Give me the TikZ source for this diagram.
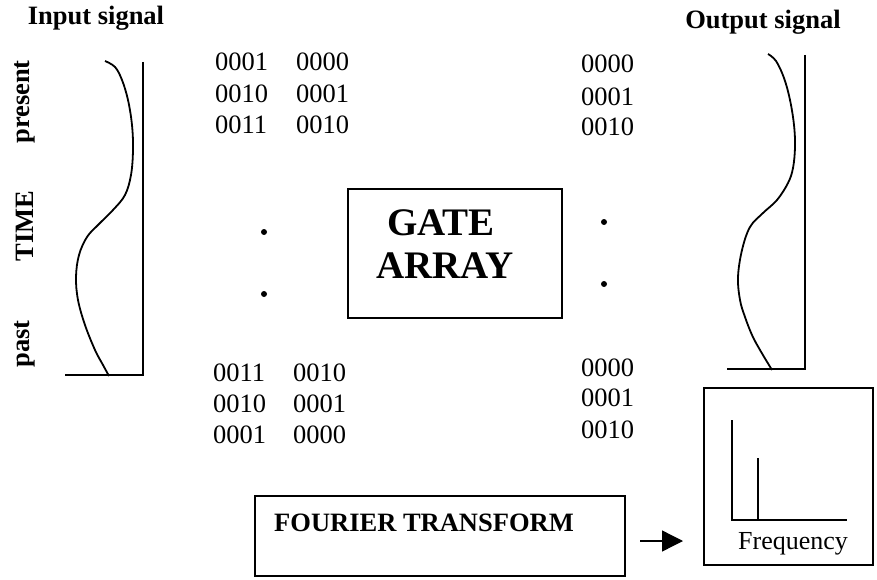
\documentclass[tikz,border=0pt]{standalone}
\usepackage{fontspec}
\setmainfont{Liberation Serif}
\usetikzlibrary{arrows.meta}
\begin{document}
\begin{tikzpicture}[x=1pt,y=-1pt,
  lbl/.style={font=\fontsize{26.5}{28}\selectfont\bfseries, inner sep=0pt},
  num/.style={font=\fontsize{26.5}{28}\selectfont, inner sep=0pt, anchor=west},
  axis/.style={line width=1.4pt},
  sig/.style={line width=1.8pt, line join=round},
  boxst/.style={draw, line width=1.5pt, inner sep=0pt},
  dotst/.style={circle, fill, inner sep=0pt, minimum size=6pt}]
\useasboundingbox (0,0) rectangle (877,580);
% titles
\node[lbl] (intitle) at (96,18) {Input signal};
\node[lbl] (outtitle) at (763,22) {Output signal};
\node[lbl, rotate=90] (present) at (25,102) {present};
\node[lbl, rotate=90] (time) at (25,226) {TIME};
\node[lbl, rotate=90] (past) at (25,344) {past};
% input axes
\coordinate (ia1) at (143,62);
\coordinate (ia2) at (143,375);
\coordinate (ia3) at (65,375);
\draw[axis] (ia1) -- (ia2) -- (ia3);
\draw[sig] plot[smooth, tension=0.6] coordinates {(105,61) (115,67) (122,80) (128,100) (132,125) (133,150) (131,175) (125,195) (113,210) (98,225) (87,237) (79,255) (76,277) (78,300) (85,325) (95,350) (103,365) (109,376)};
% output axes
\coordinate (oa1) at (805,55);
\coordinate (oa2) at (805,369);
\coordinate (oa3) at (727,369);
\draw[axis] (oa1) -- (oa2) -- (oa3);
\draw[sig] plot[smooth, tension=0.6] coordinates {(768,54) (776,61) (784,78) (790,100) (794,125) (795,147) (793,168) (788,183) (777,200) (763,213) (750,227) (742,250) (738,277) (740,300) (745,317) (752,335) (760,350) (772,370)};
% numbers left top
\node[num] (a1) at (215,62) {0001};
\node[num] (a2) at (215,94) {0010};
\node[num] (a3) at (215,125) {0011};
\node[num] (b1) at (296,62) {0000};
\node[num] (b2) at (296,94) {0001};
\node[num] (b3) at (296,125) {0010};
% numbers left bottom
\node[num] (c1) at (213,373) {0011};
\node[num] (c2) at (213,404) {0010};
\node[num] (c3) at (213,435) {0001};
\node[num] (d1) at (293,373) {0010};
\node[num] (d2) at (293,404) {0001};
\node[num] (d3) at (293,435) {0000};
% numbers right
\node[num] (e1) at (581,64) {0000};
\node[num] (e2) at (581,97) {0001};
\node[num] (e3) at (581,127) {0010};
\node[num] (f1) at (581,368) {0000};
\node[num] (f2) at (581,398) {0001};
\node[num] (f3) at (581,430) {0010};
% dots
\node[dotst] (dl1) at (264,232) {};
\node[dotst] (dl2) at (264,294) {};
\node[dotst] (dr1) at (604,222) {};
\node[dotst] (dr2) at (604,284) {};
% gate array
\node[boxst, minimum width=214pt, minimum height=129pt] (gate) at (455,253.5) {};
\node[font=\fontsize{39}{44}\selectfont\bfseries, inner sep=0pt] (gatetxt1) at (441,223) {GATE};
\node[font=\fontsize{39}{44}\selectfont\bfseries, inner sep=0pt] (gatetxt2) at (445,266) {ARRAY};
% fourier
\node[boxst, minimum width=370pt, minimum height=80pt] (fourier) at (440,536) {};
\node[font=\fontsize{26.5}{28}\selectfont\bfseries, inner sep=0pt] (ft) at (424,523) {FOURIER TRANSFORM};
% arrow
\coordinate (ar1) at (640,541);
\coordinate (ar2) at (683,541);
\draw[line width=1.3pt, -{Triangle[length=21pt,width=21pt]}] (ar1) -- (ar2);
% frequency box
\node[boxst, minimum width=169pt, minimum height=177pt] (freq) at (788.5,476.5) {};
\coordinate (fx0) at (732,420);
\coordinate (fo) at (732,520);
\coordinate (fx1) at (847,520);
\coordinate (sp1) at (758,458);
\coordinate (sp0) at (758,520);
\draw[axis] (fx0) -- (fo) -- (fx1);
\draw[axis] (sp1) -- (sp0);
\node[font=\fontsize{26}{28}\selectfont, inner sep=0pt] (freqtxt) at (793,544) {Frequency};
\end{tikzpicture}
\end{document}
